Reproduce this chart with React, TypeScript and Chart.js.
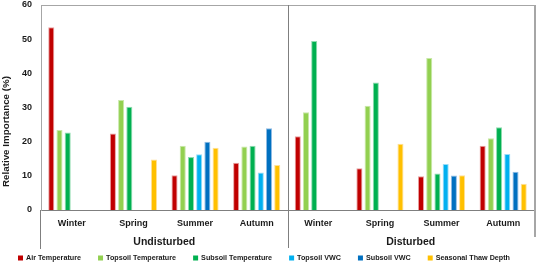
import React, { useEffect, useRef } from 'react';
import { Chart, registerables } from 'chart.js';
Chart.register(...registerables);

const seasons = ['Winter', 'Spring', 'Summer', 'Autumn', 'Winter', 'Spring', 'Summer', 'Autumn'];
const groups = ['Undisturbed', 'Disturbed'];
const seriesNames = ['Air Temperature', 'Topsoil Temperature', 'Subsoil Temperature', 'Topsoil VWC', 'Subsoil VWC', 'Seasonal Thaw Depth'];
const seriesColors = ['#C00000', '#92D050', '#00B050', '#00B0F0', '#0070C0', '#FFC000'];
const seriesEdge = ['#E8A0A0', '#C8E8A8', '#90DCB0', '#98DCF8', '#90BCE4', '#FFE098'];
const airTemperature = [53.5, 22.4, 10.2, 13.8, 21.6, 12.2, 9.9, 18.8];
const topsoilTemperature = [23.4, 32.2, 18.8, 18.6, 28.6, 30.5, 44.5, 21.0];
const subsoilTemperature = [22.7, 30.2, 15.5, 18.8, 49.5, 37.3, 10.7, 24.2];
const topsoilVWC = [null, null, 16.3, 11.0, null, null, 13.5, 16.4];
const subsoilVWC = [null, null, 20.0, 23.9, null, null, 10.1, 11.2];
const thawDepth = [null, 14.8, 18.2, 13.2, null, 19.4, 10.2, 7.7];
const seriesValues = [airTemperature, topsoilTemperature, subsoilTemperature, topsoilVWC, subsoilVWC, thawDepth];
const yMin = 0;
const yMax = 60;
const yStep = 10;
const yTitle = 'Relative Importance (%)';

const FONT = '"Liberation Sans", Arial, sans-serif';

const decorPlugin = {
  id: 'decor',
  afterDraw(chart: any) {
    const { ctx, chartArea, scales, height } = chart;
    const x = scales.x;
    const mid = (x.getPixelForValue(3) + x.getPixelForValue(4)) / 2;
    ctx.save();
    // top border
    ctx.strokeStyle = '#A6A6A6';
    ctx.lineWidth = 1;
    ctx.beginPath();
    ctx.moveTo(chartArea.left, chartArea.top + 0.5);
    ctx.lineTo(chartArea.right, chartArea.top + 0.5);
    ctx.stroke();
    // right border
    ctx.lineWidth = 2;
    ctx.beginPath();
    ctx.moveTo(chartArea.right + 1, chartArea.top);
    ctx.lineTo(chartArea.right + 1, chartArea.bottom + 27);
    ctx.stroke();
    // group dividers
    ctx.strokeStyle = '#7F7F7F';
    ctx.lineWidth = 1;
    ctx.beginPath();
    ctx.moveTo(Math.round(mid) + 0.5, chartArea.top);
    ctx.lineTo(Math.round(mid) + 0.5, chartArea.bottom + 38);
    ctx.moveTo(chartArea.left - 0.5, chartArea.bottom);
    ctx.lineTo(chartArea.left - 0.5, chartArea.bottom + 39);
    ctx.stroke();
    // group labels
    ctx.fillStyle = '#1A1A1A';
    ctx.font = `bold 10.5px ${FONT}`;
    ctx.textAlign = 'center';
    ctx.textBaseline = 'middle';
    ctx.fillText(groups[0], (chartArea.left + mid) / 2, chartArea.bottom + 32);
    ctx.fillText(groups[1], (mid + chartArea.right) / 2, chartArea.bottom + 32);
    // y title
    ctx.save();
    ctx.translate(6, height / 2);
    ctx.rotate(-Math.PI / 2);
    ctx.font = `bold 9.8px ${FONT}`;
    ctx.fillText(yTitle, 0, 0);
    ctx.restore();
    // legend
    ctx.font = `bold 7.2px ${FONT}`;
    ctx.textAlign = 'left';
    const box = 5;
    const gapText = 3;
    const widths = seriesNames.map((n) => box + gapText + ctx.measureText(n).width);
    const startX = 18;
    const endX = 510;
    const total = widths.reduce((a, b) => a + b, 0);
    const gap = (endX - startX - total) / (seriesNames.length - 1);
    let cx = startX;
    const ly = 258;
    seriesNames.forEach((n, i) => {
      ctx.fillStyle = seriesColors[i];
      ctx.fillRect(cx, ly - box / 2, box, box);
      ctx.fillStyle = '#1A1A1A';
      ctx.fillText(n, cx + box + gapText, ly);
      cx += widths[i] + gap;
    });
    ctx.restore();
  },
};

export default function App() {
  const ref = useRef<HTMLCanvasElement | null>(null);
  useEffect(() => {
    document.body.style.margin = '0';
    const canvas = ref.current;
    if (!canvas) return;
    const chart = new Chart(canvas, {
      type: 'bar',
      data: {
        labels: seasons,
        datasets: seriesNames.map((name, i) => ({
          label: name,
          data: seriesValues[i] as any,
          backgroundColor: seriesColors[i],
          borderColor: seriesEdge[i],
          borderWidth: 1,
          categoryPercentage: 0.8,
          barPercentage: 0.74,
        })),
      },
      options: {
        animation: false,
        responsive: false,
        maintainAspectRatio: false,
        layout: { padding: { top: 5, right: 2, left: 0, bottom: 0 } },
        plugins: {
          legend: { display: false },
          tooltip: { enabled: false },
        },
        scales: {
          x: {
            grid: { display: false, drawTicks: false },
            border: { display: true, color: '#7F7F7F', width: 1 },
            ticks: {
              color: '#1A1A1A',
              font: { family: FONT, size: 9, weight: 'bold' },
              padding: 8,
              maxRotation: 0,
              autoSkip: false,
            },
            afterFit(scale: any) {
              scale.height = 53;
              scale.paddingLeft = 0;
              scale.paddingRight = 0;
            },
          },
          y: {
            min: yMin,
            max: yMax,
            grid: { display: false, drawTicks: false },
            border: { display: true, color: '#A6A6A6', width: 1 },
            ticks: {
              stepSize: yStep,
              color: '#1A1A1A',
              font: { family: FONT, size: 9, weight: 'bold' },
              padding: 9,
            },
            afterFit(scale: any) {
              scale.width = 41;
              scale.paddingTop = 0;
              scale.paddingBottom = 0;
            },
          },
        },
      },
      plugins: [decorPlugin],
    });
    return () => chart.destroy();
  }, []);
  return (
    <div style={{ width: 536, height: 263, background: '#fff' }}>
      <canvas ref={ref} width={536} height={263} style={{ width: 536, height: 263, display: 'block' }} />
    </div>
  );
}
